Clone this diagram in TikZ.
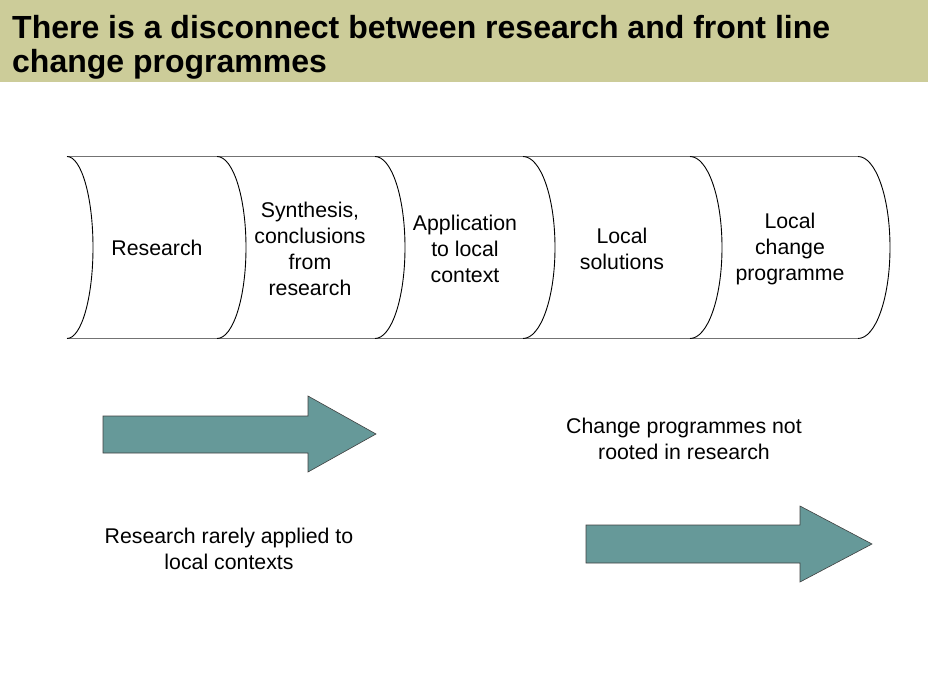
\documentclass[tikz,border=0pt]{standalone}
\usepackage{fontspec}
\setmainfont{Liberation Sans}
\begin{document}
\begin{tikzpicture}[x=1pt,y=-1pt,
  banner/.style={fill=bannerfill, draw=none},
  rim/.style={draw=black!55, line width=0.9pt},
  curve/.style={draw=black, line width=0.9pt},
  bigarrow/.style={fill=arrowfill, draw=black!75, line width=0.6pt},
  titletext/.style={anchor=base west, inner sep=0pt, font=\fontsize{32}{35}\selectfont\bfseries},
  label/.style={align=center, inner sep=0pt, font=\fontsize{21.3}{26}\selectfont}]
\definecolor{bannerfill}{RGB}{204,204,153}
\definecolor{arrowfill}{RGB}{102,153,153}
\useasboundingbox (0,0) rectangle (928,700);

% title banner
\fill[banner] (0,0) rectangle (928,82);
\node[titletext] (title1) at (12,39) {There is a disconnect between research and front line};
\node[titletext] (title2) at (12,73) {change programmes};

% chain of stored-data segments
\draw[rim] (67,156.5) -- (858,156.5);
\draw[rim] (67,338.5) -- (858,338.5);
\foreach \x/\a in {67/26, 217/29, 375/30, 523/32, 690/32, 858/32} {
  \draw[curve] (\x,156.5)
    .. controls ({\x+0.5523*\a},156.5) and ({\x+\a},197) .. ({\x+\a},247.5)
    .. controls ({\x+\a},298) and ({\x+0.5523*\a},338.5) .. (\x,338.5);
}

\node[label] (research) at (157,248) {Research};
\node[label] (synth) at (310,248.5) {Synthesis,\\conclusions\\from\\research};
\node[label] (apply) at (465,248.5) {Application\\to local\\context};
\node[label] (solutions) at (622,248.5) {Local\\solutions};
\node[label] (programme) at (790,248.5) {Local\\change\\programme};

% block arrows
\draw[bigarrow] (103,416) -- (308,416) -- (308,396) -- (376,434)
  -- (308,472) -- (308,453) -- (103,453) -- cycle;
\draw[bigarrow] (586,525) -- (800,525) -- (800,506) -- (872,544)
  -- (800,582) -- (800,563) -- (586,563) -- cycle;

\node[label] (notrooted) at (684,439) {Change programmes not\\rooted in research};
\node[label] (rarely) at (229,549) {Research rarely applied to\\local contexts};
\end{tikzpicture}
\end{document}
